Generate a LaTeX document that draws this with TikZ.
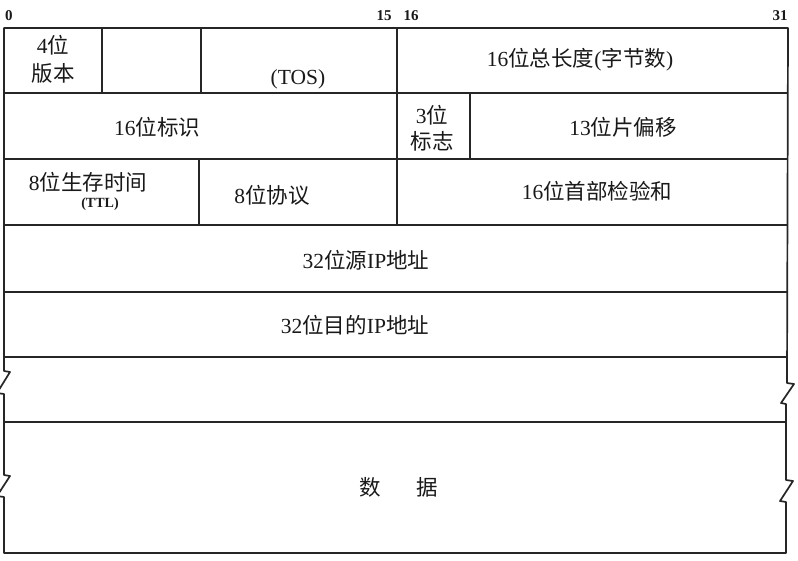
\documentclass[tikz,border=0pt]{standalone}
\usepackage{fontspec}
\setmainfont{Liberation Serif}
\newfontfamily\cjk{Noto Sans CJK SC}
\newcommand\zh[1]{{\cjk #1}}
\begin{document}
\begin{tikzpicture}[x=1pt,y=-1pt,
  grid/.style={draw=black!85,line width=1.7pt,line join=round},
  lbl/.style={font=\fontsize{21.5}{28}\selectfont,inner sep=0pt,align=center,text=black!90},
  small/.style={font=\bfseries\fontsize{14}{16}\selectfont,inner sep=0pt,text=black!90},
  bitno/.style={font=\bfseries\fontsize{15}{17}\selectfont,inner sep=0pt,text=black!90}]
\useasboundingbox[fill=white] (0,0) rectangle (798,560);
% outline with break marks
\draw[grid] (4,28) -- (788,28) -- (787,383) -- (794,384) -- (781,403) -- (786,404)
  -- (786,480) -- (793,481) -- (780,501) -- (786,502) -- (786,553) -- (4,553)
  -- (4,497) -- (-3,496) -- (10,476) -- (4,475) -- (4,394) -- (-3,393)
  -- (10,372) -- (4,371) -- cycle;
% row lines
\draw[grid] (4,93) -- (788,93);
\draw[grid] (4,159) -- (788,159);
\draw[grid] (4,225) -- (787,225);
\draw[grid] (4,292) -- (787,292);
\draw[grid] (4,357) -- (787,357);
\draw[grid] (4,422) -- (786,422);
% column lines
\draw[grid] (102,28) -- (102,93);
\draw[grid] (201,28) -- (201,93);
\draw[grid] (397,28) -- (397,225);
\draw[grid] (470,93) -- (470,159);
\draw[grid] (199,159) -- (199,225);
% bit numbers
\node[bitno] (b0) at (9,16) {0};
\node[bitno] (b15) at (384,16) {15};
\node[bitno] (b16) at (411,16) {16};
\node[bitno] (b31) at (780,16) {31};
% row 1
\node[lbl] (ver) at (53,59) {4\zh{位}\\\zh{版本}};
\node[lbl] (tos) at (298,79) {(TOS)};
\node[lbl] (len) at (580,60) {16\zh{位总长度}(\zh{字节数})};
% row 2
\node[lbl] (id) at (157,127) {16\zh{位标识}};
\node[lbl,font=\fontsize{21.5}{26}\selectfont] (flag) at (432,128) {3\zh{位}\\\zh{标志}};
\node[lbl] (off) at (623,127) {13\zh{位片偏移}};
% row 3
\node[lbl] (ttl) at (88,182) {8\zh{位生存时间}};
\node[small] (ttl2) at (100,204) {(TTL)};
\node[lbl] (proto) at (272,195) {8\zh{位协议}};
\node[lbl] (chk) at (597,191) {16\zh{位首部检验和}};
% rows 4-5
\node[lbl] (src) at (366,260) {32\zh{位源}IP\zh{地址}};
\node[lbl] (dst) at (355,325) {32\zh{位目的}IP\zh{地址}};
% data
\node[lbl] (d1) at (370,487) {\zh{数}};
\node[lbl] (d2) at (427,487) {\zh{据}};
\end{tikzpicture}
\end{document}
